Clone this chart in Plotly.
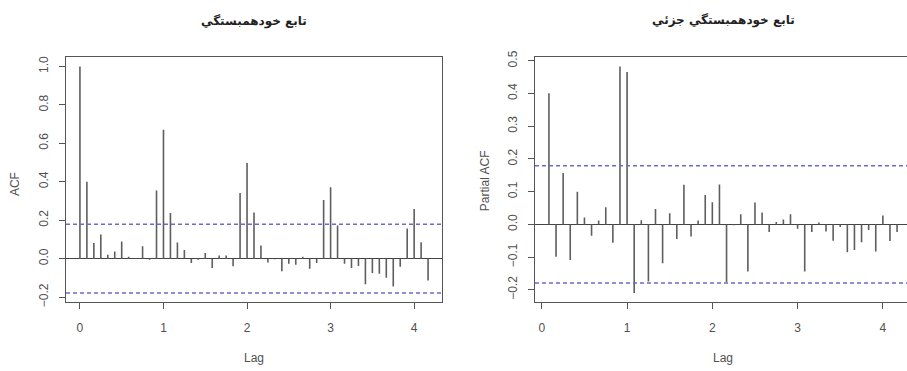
import numpy as np
import plotly.graph_objects as go

# ---------------- data ----------------
freq = 12
n_obs = 120
acf_vals = [1.00, 0.40, 0.081, 0.126, 0.020, 0.037, 0.089, 0.010, 0.003, 0.064,
            -0.005, 0.355, 0.670, 0.237, 0.084, 0.045, -0.022, -0.005, 0.029, -0.049,
            0.017, 0.017, -0.040, 0.342, 0.497, 0.240, 0.068, -0.020, -0.003, -0.066,
            -0.026, -0.032, 0.010, -0.053, -0.022, 0.305, 0.371, 0.173, -0.026, -0.049,
            -0.038, -0.133, -0.075, -0.079, -0.099, -0.145, -0.042, 0.157, 0.258, 0.085,
            -0.113]
pacf_vals = [0.401, -0.099, 0.157, -0.109, 0.100, 0.021, -0.035, 0.012, 0.052, -0.056,
             0.483, 0.466, -0.210, 0.013, -0.175, 0.047, -0.119, 0.034, -0.045, 0.121,
             -0.037, 0.012, 0.090, 0.068, 0.122, -0.177, -0.003, 0.031, -0.144, 0.067,
             0.036, -0.023, 0.007, 0.015, 0.031, -0.013, -0.144, -0.023, 0.006, -0.022,
             -0.050, -0.008, -0.085, -0.078, -0.055, -0.017, -0.083, 0.027, -0.051, -0.023]
acf_lags = [k / freq for k in range(len(acf_vals))]
pacf_lags = [k / freq for k in range(1, len(pacf_vals) + 1)]
title_acf = "تابع خودهمبستگي"
title_pacf = "تابع خودهمبستگي جزئي"
x_ticks = [0, 1, 2, 3, 4]
acf_yticks = [-0.2, 0.0, 0.2, 0.4, 0.6, 0.8, 1.0]
pacf_yticks = [-0.2, -0.1, 0.0, 0.1, 0.2, 0.3, 0.4, 0.5]

clim = 1.96 / np.sqrt(n_obs)

W, H = 907, 371
AX = "#555555"
TXT = "#505050"
BAR = "#5e5e5e"
CI = "#6a6ad2"
FONT = "Liberation Sans, Arial, sans-serif"


def ext(lo, hi, f=0.04):
    s = hi - lo
    return [lo - f * s, hi + f * s]


def stems(xs, ys):
    X, Y = [], []
    for a, b in zip(xs, ys):
        X += [a, a, None]
        Y += [0, b, None]
    return X, Y


fig = go.Figure()
x1, y1 = stems(acf_lags, acf_vals)
fig.add_trace(go.Scatter(x=x1, y=y1, mode="lines", line=dict(color=BAR, width=1.6),
                         xaxis="x", yaxis="y", hoverinfo="skip", showlegend=False))
x2, y2 = stems(pacf_lags, pacf_vals)
fig.add_trace(go.Scatter(x=x2, y=y2, mode="lines", line=dict(color=BAR, width=1.6),
                         xaxis="x2", yaxis="y2", hoverinfo="skip", showlegend=False))

# ranges (R style 4% extension)
xr1 = ext(min(acf_lags), max(acf_lags))
yr1 = ext(min(min(acf_vals), -clim), max(max(acf_vals), clim))
xr2_full = ext(min(pacf_lags), max(pacf_lags))
yr2 = ext(min(min(pacf_vals), -clim), max(max(pacf_vals), clim))

L1, R1 = 66, 442
L2, R2full = 535, 911
R2 = W
xr2 = [xr2_full[0], xr2_full[0] + (R2 - L2) / (R2full - L2) * (xr2_full[1] - xr2_full[0])]
T, B = 52, 305

common_x = dict(showgrid=False, zeroline=False, showline=True, linecolor=AX, linewidth=1.2,
                ticks="outside", ticklen=6, tickcolor=AX, tickwidth=1,
                tickvals=x_ticks, tickfont=dict(family=FONT, size=12, color=TXT),
                ticklabelstandoff=8)
common_y = dict(showgrid=False, zeroline=True, zerolinecolor="#444444", zerolinewidth=1,
                showline=True, linecolor=AX, linewidth=1.2,
                ticks="outside", ticklen=6, tickcolor=AX, tickwidth=1,
                tickfont=dict(family=FONT, size=12, color=TXT), tickangle=-90,
                tickformat=".1f", ticklabelstandoff=6)

fig.update_layout(
    width=W, height=H, margin=dict(l=0, r=0, t=0, b=0),
    paper_bgcolor="white", plot_bgcolor="white", showlegend=False,
    xaxis=dict(domain=[L1 / W, R1 / W], range=xr1, anchor="y", mirror=True, **common_x),
    yaxis=dict(domain=[1 - B / H, 1 - T / H], range=yr1, anchor="x", mirror=True,
               tickvals=acf_yticks, **common_y),
    xaxis2=dict(domain=[L2 / W, 1.0], range=xr2, anchor="y2", mirror=True, **common_x),
    yaxis2=dict(domain=[1 - B / H, 1 - T / H], range=yr2, anchor="x2", mirror=False,
                tickvals=pacf_yticks, **common_y),
)

shapes = []
for xa, ya in (("x", "y"), ("x2", "y2")):
    for c in (clim, -clim):
        shapes.append(dict(type="line", xref=f"{xa} domain", yref=ya, x0=0, x1=1, y0=c, y1=c,
                           line=dict(color=CI, width=1.5, dash="4px,3px")))
fig.update_layout(shapes=shapes)

ann = []
def px_ann(text, x, y, size=12, bold=False, angle=0, family=FONT):
    ann.append(dict(text=f"<b>{text}</b>" if bold else text, x=x / W, y=1 - y / H,
                    xref="paper", yref="paper", showarrow=False, textangle=angle,
                    xanchor="center", yanchor="middle",
                    font=dict(family=family, size=size, color="#222222" if bold else TXT)))

px_ann(title_acf, (L1 + R1) / 2, 15, size=12, bold=True, family="DejaVu Sans")
px_ann(title_pacf, (L2 + R2full) / 2, 14, size=12, bold=True, family="DejaVu Sans")
px_ann("ACF", 15, 183, angle=-90)
px_ann("Partial ACF", 485, 180, angle=-90)
px_ann("Lag", (L1 + R1) / 2, 363)
px_ann("Lag", (L2 + R2full) / 2, 363)
fig.update_layout(annotations=ann)

fig.write_html("out.html", config={"displayModeBar": False},
               post_script="document.body.style.margin='0px';document.body.style.overflow='hidden';")
